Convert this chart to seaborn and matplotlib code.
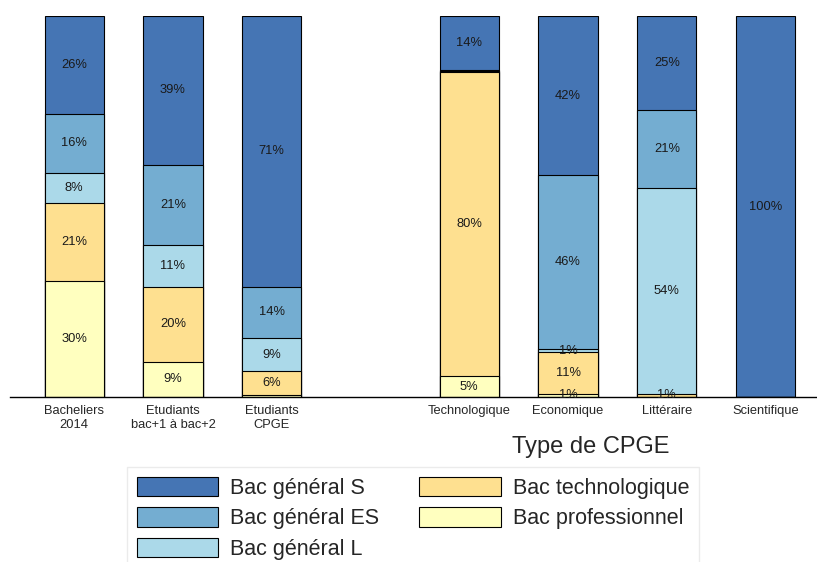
import matplotlib
matplotlib.use("Agg")
import matplotlib.pyplot as plt
from matplotlib.patches import Patch
import seaborn as sns
import numpy as np
import pandas as pd

# --- données (parts en %) ---
groups = ["Bacheliers\n2014", "Etudiants\nbac+1 à bac+2", "Etudiants\nCPGE", "",
          "Technologique", "Economique", "Littéraire", "Scientifique"]
bars = ["Bacheliers\n2014", "Etudiants\nbac+1 à bac+2", "Etudiants\nCPGE",
        "Technologique", "Economique", "Littéraire", "Scientifique"]

bac_pro    = [30.4,  9.2,  0.4,  5.4,  0.8,  0.1,   0.0]
bac_techno = [20.6, 19.7,  6.3, 79.9, 10.9,  0.7,   0.0]
bac_l      = [ 7.9, 11.0,  8.7,  0.2,  0.9, 54.0,   0.0]
bac_es     = [15.5, 21.0, 13.6,  0.3, 45.6, 20.6,   0.0]
bac_s      = [25.6, 39.1, 70.9, 14.2, 41.8, 24.7, 100.0]

series_names = ["Bac professionnel", "Bac technologique", "Bac général L",
                "Bac général ES", "Bac général S"]
series_vals = [bac_pro, bac_techno, bac_l, bac_es, bac_s]
colors = ["#ffffbf", "#fee090", "#abd9e9", "#74add1", "#4575b4"]

sns.set_style("white")
plt.rcParams["font.family"] = ["Liberation Sans", "DejaVu Sans"]

fig = plt.figure(figsize=(8.17, 5.62), dpi=100)
ax = fig.add_axes([10 / 817, 1 - 397 / 562, 1 - 10 / 817, (397 - 16) / 562])

vals = np.array(series_vals)
cum = np.cumsum(vals, axis=0)

# barres empilées : on dessine les cumuls du plus grand au plus petit
for k in range(len(series_names) - 1, -1, -1):
    df = pd.DataFrame({"groupe": bars, "v": cum[k]})
    sns.barplot(data=df, x="groupe", y="v", order=groups, color=colors[k],
                saturation=1, width=0.6, edgecolor="black", linewidth=0.8, ax=ax)

# étiquettes en %
pos = {g: i for i, g in enumerate(groups)}
for k in range(len(series_names)):
    for j, b in enumerate(bars):
        v = vals[k, j]
        if v >= 0.5:
            mid = cum[k, j] - v / 2
            ax.text(pos[b], mid, f"{v:.0f}%", ha="center", va="center",
                    fontsize=9.3, color="#1a1a1a")

ax.set_xlim(-0.65, 7.52)
ax.set_ylim(0, 100)
ax.set_xlabel("")
ax.set_ylabel("")
ax.set_yticks([])
ax.tick_params(axis="x", length=0, labelsize=9.3, pad=6)
for s in ["top", "left", "right"]:
    ax.spines[s].set_visible(False)
ax.spines["bottom"].set_color("black")
ax.spines["bottom"].set_linewidth(1)

fig.text(591 / 817, 1 - 447 / 562, "Type de CPGE", ha="center", va="center",
         fontsize=17)

# légende
order = [4, 3, 2, 1, 0]
handles = [Patch(facecolor=colors[k], edgecolor="black", linewidth=0.8) for k in order]
labels = [series_names[k] for k in order]
leg = fig.legend(handles, labels, ncol=2, loc="upper left",
                 bbox_to_anchor=(127 / 817, 1 - 467 / 562), fontsize=15.5,
                 handlelength=3.8, handleheight=1.0, handletextpad=0.55,
                 columnspacing=1.85, labelspacing=0.4, borderpad=0.45,
                 borderaxespad=0, frameon=True, fancybox=False,
                 edgecolor="#e6e6e6")

fig.savefig("out.png", dpi=100)
